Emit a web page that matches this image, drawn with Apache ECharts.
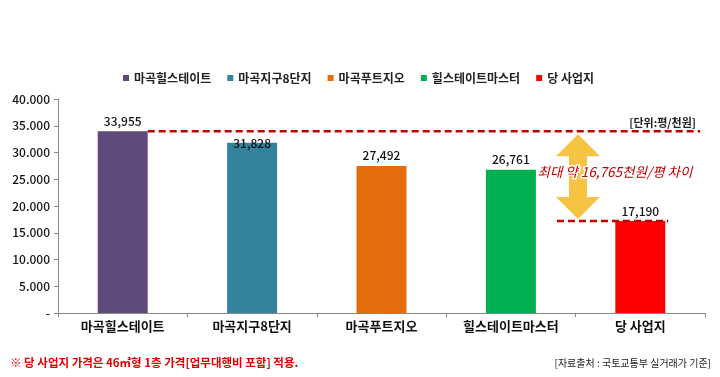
<!DOCTYPE html>
<html>
<head>
<meta charset="utf-8">
<script src="https://cdn.jsdelivr.net/npm/echarts@6/dist/echarts.min.js"></script>
<style>
  html, body { margin: 0; padding: 0; background: #fff; }
  #chart { width: 720px; height: 377px; }
</style>
</head>
<body>
<div id="chart"></div>
<script>
var categories = ['마곡힐스테이트', '마곡지구8단지', '마곡푸트지오', '힐스테이트마스터', '당 사업지']
var values = [33955, 31828, 27492, 26761, 17190]
var colors = ['#5f4a7b', '#31849b', '#e46c0a', '#00b050', '#ff0000']
var yTicks = [0, 5000, 10000, 15000, 20000, 25000, 30000, 35000, 40000]

var font = '"Noto Sans CJK KR", "Noto Sans", sans-serif'

function fmtDot(v) {
  if (v === 0) return '-'
  return String(v).replace(/\B(?=(\d{3})+(?!\d))/g, '.')
}
function fmtComma(v) {
  return String(v).replace(/\B(?=(\d{3})+(?!\d))/g, ',')
}

var chart = echarts.init(document.getElementById('chart'))

var series = categories.map(function (name, i) {
  var data = categories.map(function (c, j) { return j === i ? values[i] : null })
  return {
    name: name,
    type: 'bar',
    stack: 'all',
    barWidth: 50,
    itemStyle: { color: colors[i] },
    label: {
      show: true,
      position: 'top',
      distance: 4,
      offset: i === 1 ? [0, 11] : [0, 0],
      fontFamily: font,
      fontSize: 12,
      fontWeight: 500,
      color: '#111',
      formatter: function (p) { return fmtComma(p.value) }
    },
    data: data
  }
})

var option = {
  animation: false,
  textStyle: { fontFamily: font },
  legend: {
    top: 67,
    left: 118,
    itemWidth: 6,
    itemHeight: 6,
    itemGap: 16,
    icon: 'rect',
    textStyle: { fontSize: 12, fontWeight: 'bold', color: '#222', fontFamily: font },
    data: categories
  },
  grid: { left: 58, right: 15, top: 99, bottom: 64 },
  xAxis: {
    type: 'category',
    data: categories,
    axisLine: { lineStyle: { color: '#888' } },
    axisTick: { show: true, length: 4, lineStyle: { color: '#888' } },
    axisLabel: { fontSize: 13, fontWeight: 'bold', color: '#111', margin: 7, fontFamily: font }
  },
  yAxis: {
    type: 'value',
    min: yTicks[0],
    max: yTicks[yTicks.length - 1],
    interval: 5000,
    axisLine: { show: true, lineStyle: { color: '#888' } },
    axisTick: { show: true, length: 4, lineStyle: { color: '#888' } },
    splitLine: { show: false },
    axisLabel: {
      fontSize: 12,
      fontWeight: 500,
      color: '#111',
      margin: 8,
      fontFamily: font,
      formatter: fmtDot
    }
  },
  series: series
}

chart.setOption(option)

// overlay: dashed reference lines, arrow and notes, positioned from the axes
var pTop = chart.convertToPixel({ xAxisIndex: 0, yAxisIndex: 0 }, [0, values[0]])
var pLow = chart.convertToPixel({ xAxisIndex: 0, yAxisIndex: 0 }, [4, values[4]])
var halfBar = 25
var rightEnd = 700
var arrowX = 578
var yA = pTop[1] + 3
var yB = pLow[1] - 2
var headW = 22
var shaftW = 9
var headL = 22

var dashStyle = { stroke: '#c00000', lineWidth: 2.5, lineDash: [7, 4] }

chart.setOption({
  graphic: [
    {
      type: 'line',
      shape: { x1: pTop[0] + halfBar, y1: pTop[1], x2: rightEnd, y2: pTop[1] },
      style: dashStyle,
      z: 10
    },
    {
      type: 'line',
      shape: { x1: 557, y1: pLow[1], x2: pLow[0] + halfBar + 3, y2: pLow[1] },
      style: dashStyle,
      z: 10
    },
    {
      type: 'polygon',
      shape: {
        points: [
          [arrowX, yA],
          [arrowX + headW, yA + headL],
          [arrowX + shaftW, yA + headL],
          [arrowX + shaftW, yB - headL],
          [arrowX + headW, yB - headL],
          [arrowX, yB],
          [arrowX - headW, yB - headL],
          [arrowX - shaftW, yB - headL],
          [arrowX - shaftW, yA + headL],
          [arrowX - headW, yA + headL]
        ]
      },
      style: { fill: '#f6c342' },
      z: 9
    },
    {
      type: 'text',
      left: 536,
      top: 164,
      style: {
        text: '최대 약 16,765천원/평 차이',
        fontFamily: font,
        fontSize: 13.5,
        fontStyle: 'italic',
        fill: '#c00000',
        stroke: '#fff',
        lineWidth: 3
      },
      z: 12
    },
    {
      type: 'text',
      right: 24,
      top: 117,
      style: {
        text: '[단위:평/천원]',
        fontFamily: font,
        fontSize: 11,
        fontWeight: 'bold',
        fill: '#222'
      },
      z: 12
    },
    {
      type: 'text',
      left: 10,
      top: 357,
      style: {
        text: '※ 당 사업지 가격은 46㎡형 1층 가격[업무대행비 포함] 적용.',
        fontFamily: font,
        fontSize: 11.5,
        fontWeight: 'bold',
        fill: '#e00000'
      },
      z: 12
    },
    {
      type: 'text',
      right: 9,
      top: 358,
      style: {
        text: '[자료출처 : 국토교통부 실거래가 기준]',
        fontFamily: font,
        fontSize: 10,
        fill: '#222'
      },
      z: 12
    }
  ]
})
</script>
</body>
</html>
